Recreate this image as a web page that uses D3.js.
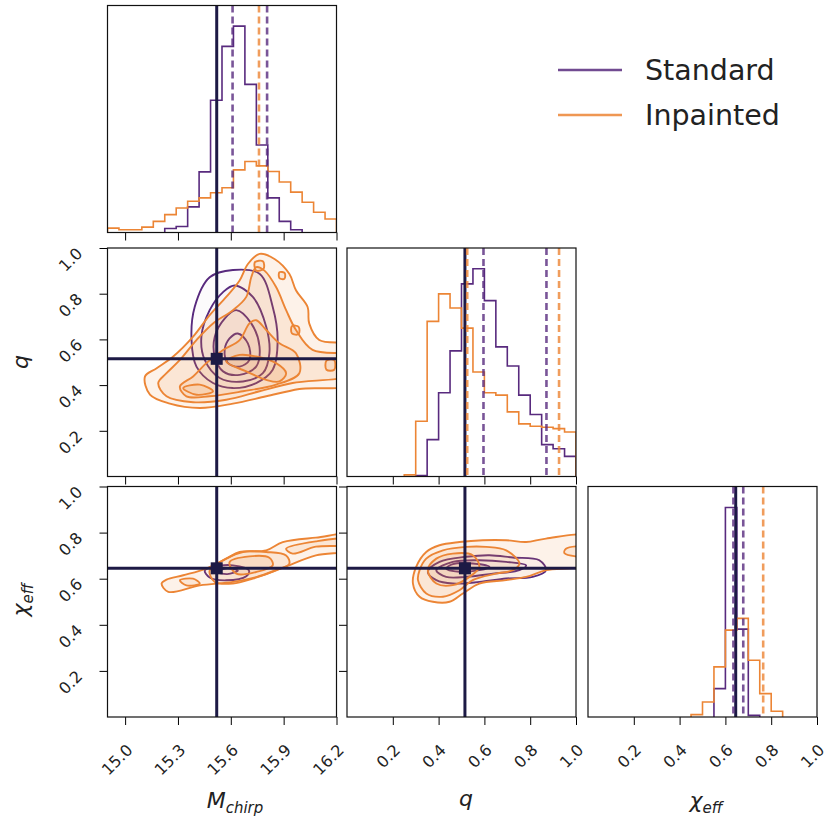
<!DOCTYPE html>
<html>
<head>
<meta charset="utf-8">
<script src="https://cdn.jsdelivr.net/npm/d3@7"></script>
<style>
  body { margin: 0; background: #fff; }
  svg text { font-family: "DejaVu Sans", sans-serif; fill: #222; }
</style>
</head>
<body>
<svg id="chart" width="837" height="817"></svg>
<script>
// Parameters and ranges
const paramLabels = ["M", "q", "χ"];
const paramSubs = ["chirp", "", "eff"];
const paramRanges = [[14.9, 16.2], [0, 1], [0, 1]];
const xTickValues = [
  [15.0, 15.3, 15.6, 15.9, 16.2],
  [0.2, 0.4, 0.6, 0.8, 1.0],
  [0.2, 0.4, 0.6, 0.8, 1.0],
];
const yTickValues = [0.2, 0.4, 0.6, 0.8, 1.0];
const nBins = 20;

// Injected values
const truths = [15.52, 0.515, 0.645];

// 1D histograms (counts per bin, 20 bins over each range)
const stdHistMchirp = [0, 0, 0, 0, 0, 12, 18, 76, 180, 393, 553, 613, 440, 260, 103, 33, 8, 0, 0, 0];
const inpHistMchirp = [13, 8, 8, 16, 33, 53, 73, 93, 103, 118, 133, 186, 211, 198, 181, 150, 120, 90, 60, 40];
const stdHistQ = [0, 0, 0, 0, 0, 0, 3, 110, 250, 375, 575, 620, 525, 387, 330, 243, 185, 95, 83, 60];
const inpHistQ = [0, 0, 0, 0, 0, 5, 165, 463, 545, 503, 443, 312, 250, 243, 193, 157, 150, 147, 143, 133];
const stdHistChi = [0, 0, 0, 0, 0, 0, 0, 0, 0, 0, 0, 85, 627, 263, 5, 0, 0, 0, 0, 0];
const inpHistChi = [0, 0, 0, 0, 0, 0, 0, 0, 0, 7, 45, 150, 260, 295, 170, 70, 17, 0, 0, 0];

// Dashed markers on the 1D panels
const stdQuantMchirp = [15.61, 15.806];
const inpQuantMchirp = [15.76];
const stdQuantQ = [0.596, 0.871];
const inpQuantQ = [0.525, 0.926];
const stdQuantChi = [0.635, 0.678];
const inpQuantChi = [0.765];

// 2D contours: levels (outer -> inner), each a list of rings of [x, y]
const stdContMchirpQ = [
  [[[15.48, 0.872], [15.612, 0.904], [15.763, 0.887], [15.838, 0.742], [15.866, 0.597], [15.838, 0.467],
    [15.744, 0.409], [15.612, 0.387], [15.499, 0.409], [15.405, 0.481], [15.377, 0.597], [15.395, 0.742]]],
  [[[15.622, 0.836], [15.725, 0.786], [15.801, 0.655], [15.819, 0.539], [15.782, 0.452], [15.669, 0.416],
    [15.537, 0.431], [15.452, 0.51], [15.433, 0.612], [15.48, 0.728], [15.556, 0.807]]],
  [[[15.631, 0.728], [15.716, 0.67], [15.763, 0.568], [15.744, 0.481], [15.65, 0.445], [15.556, 0.46],
    [15.509, 0.525], [15.509, 0.612], [15.565, 0.691]]],
  [[[15.64, 0.626], [15.697, 0.583], [15.706, 0.51], [15.65, 0.481], [15.584, 0.496], [15.565, 0.554], [15.593, 0.604]]],
];
const inpContMchirpQ = [
  [[[15.113, 0.438], [15.141, 0.358], [15.254, 0.319], [15.424, 0.3], [15.612, 0.319], [15.801, 0.351],
    [15.989, 0.383], [16.3, 0.41], [16.3, 0.57], [16.102, 0.597], [16.045, 0.67], [16.036, 0.742],
    [15.97, 0.815], [15.932, 0.887], [15.848, 0.952], [15.763, 0.974], [15.697, 0.93], [15.65, 0.858],
    [15.574, 0.786], [15.48, 0.706], [15.386, 0.612], [15.273, 0.525], [15.179, 0.474]]],
  [[[15.188, 0.409], [15.235, 0.351], [15.386, 0.325], [15.574, 0.336], [15.763, 0.373], [15.951, 0.409],
    [16.3, 0.452], [16.3, 0.525], [16.064, 0.554], [15.97, 0.641], [15.914, 0.728], [15.857, 0.829],
    [15.791, 0.901], [15.744, 0.916], [15.716, 0.872], [15.688, 0.786], [15.612, 0.728], [15.499, 0.67],
    [15.405, 0.597], [15.311, 0.51], [15.235, 0.452]],
   [[15.737, 0.938], [15.782, 0.942], [15.786, 0.909], [15.744, 0.901]],
   [[15.876, 0.894], [15.906, 0.89], [15.904, 0.865], [15.876, 0.868]],
   [[15.947, 0.658], [15.985, 0.655], [15.985, 0.623], [15.947, 0.626]],
   [[16.143, 0.507], [16.187, 0.51], [16.187, 0.467], [16.143, 0.467]]],
  [[[15.311, 0.394], [15.348, 0.351], [15.48, 0.351], [15.669, 0.373], [15.857, 0.402], [15.989, 0.452],
    [15.97, 0.539], [15.876, 0.583], [15.801, 0.641], [15.744, 0.684], [15.706, 0.67], [15.65, 0.597],
    [15.556, 0.554], [15.461, 0.496], [15.386, 0.438]]],
  [[[15.574, 0.503], [15.688, 0.46], [15.801, 0.423], [15.876, 0.416], [15.914, 0.452], [15.857, 0.496],
    [15.744, 0.525], [15.65, 0.532]],
   [[15.33, 0.387], [15.405, 0.358], [15.499, 0.373], [15.424, 0.402]]],
];
const stdContMchirpChi = [
  [[[15.452, 0.636], [15.48, 0.605], [15.574, 0.593], [15.688, 0.611], [15.703, 0.636], [15.612, 0.658], [15.499, 0.651]]],
  [[[15.52, 0.63], [15.58, 0.62], [15.64, 0.635], [15.58, 0.645]]],
];
const inpContMchirpChi = [
  [[[15.207, 0.579], [15.245, 0.543], [15.424, 0.571], [15.612, 0.586], [15.744, 0.607], [15.895, 0.648],
    [16.083, 0.701], [16.3, 0.73], [16.3, 0.79], [16.083, 0.778], [15.895, 0.759], [15.801, 0.723],
    [15.65, 0.716], [15.574, 0.687], [15.461, 0.644], [15.33, 0.615], [15.235, 0.596]]],
  [[[15.48, 0.636], [15.509, 0.586], [15.612, 0.579], [15.725, 0.6], [15.857, 0.636], [15.932, 0.665],
    [15.914, 0.701], [15.801, 0.716], [15.669, 0.716], [15.574, 0.687]],
   [[15.914, 0.73], [16.083, 0.762], [16.3, 0.772], [16.3, 0.75], [16.083, 0.739], [15.951, 0.709]],
   [[15.311, 0.593], [15.348, 0.571], [15.424, 0.579], [15.386, 0.6]]],
  [[[15.593, 0.672], [15.631, 0.622], [15.744, 0.629], [15.838, 0.658], [15.819, 0.691], [15.706, 0.697]]],
];
const stdContQChi = [
  [[[0.353, 0.63], [0.39, 0.594], [0.462, 0.579], [0.578, 0.586], [0.695, 0.601], [0.811, 0.608],
    [0.869, 0.637], [0.84, 0.68], [0.724, 0.692], [0.622, 0.702], [0.52, 0.695], [0.404, 0.673]]],
  [[[0.39, 0.637], [0.433, 0.608], [0.52, 0.608], [0.637, 0.622], [0.753, 0.637], [0.782, 0.658],
    [0.695, 0.673], [0.578, 0.68], [0.462, 0.673]]],
  [[[0.433, 0.644], [0.491, 0.63], [0.578, 0.637], [0.622, 0.651], [0.549, 0.666], [0.462, 0.663]]],
];
const inpContQChi = [
  [[[0.288, 0.579], [0.317, 0.522], [0.375, 0.5], [0.448, 0.5], [0.506, 0.536], [0.578, 0.579],
    [0.695, 0.594], [0.782, 0.608], [0.869, 0.637], [1.05, 0.666], [1.05, 0.781], [0.869, 0.774],
    [0.782, 0.759], [0.695, 0.767], [0.593, 0.767], [0.491, 0.759], [0.404, 0.745], [0.346, 0.716], [0.302, 0.651]]],
  [[[0.31, 0.594], [0.346, 0.536], [0.419, 0.522], [0.491, 0.55], [0.549, 0.594], [0.651, 0.622],
    [0.724, 0.637], [0.753, 0.666], [0.695, 0.723], [0.608, 0.738], [0.52, 0.738], [0.419, 0.723],
    [0.346, 0.687], [0.317, 0.637]],
   [[0.956, 0.73], [1.05, 0.735], [1.05, 0.7], [0.95, 0.71]]],
  [[[0.353, 0.637], [0.39, 0.579], [0.462, 0.572], [0.535, 0.608], [0.578, 0.651], [0.549, 0.702],
    [0.462, 0.709], [0.39, 0.687]]],
];

// Series
const seriesNames = ["Standard", "Inpainted"];
const seriesColors = ["#582a7e", "#ec8535"];
const truthColor = "#1d1a45";

const stdHists = [stdHistMchirp, stdHistQ, stdHistChi];
const inpHists = [inpHistMchirp, inpHistQ, inpHistChi];
const stdQuants = [stdQuantMchirp, stdQuantQ, stdQuantChi];
const inpQuants = [inpQuantMchirp, inpQuantQ, inpQuantChi];
const pairContours = {
  "0-1": [stdContMchirpQ, inpContMchirpQ],
  "0-2": [stdContMchirpChi, inpContMchirpChi],
  "1-2": [stdContQChi, inpContQChi],
};

// Layout
const colX = [107.5, 347, 588];
const panelW = 229;
const rowY = [5.5, 248, 486.5];
const rowH = [227, 228.5, 230.5];
const tickLen = 8;
const fmt = d3.format(".1f");

const svg = d3.select("#chart");
const defs = svg.append("defs");

function xScale(p, col) {
  return d3.scaleLinear().domain(paramRanges[p]).range([colX[col], colX[col] + panelW]);
}
function yScale(p, row) {
  return d3.scaleLinear().domain(paramRanges[p]).range([rowY[row] + rowH[row], rowY[row]]);
}

function clipFor(col, row) {
  const id = `clip${col}${row}`;
  defs.append("clipPath").attr("id", id)
    .append("rect")
    .attr("x", colX[col]).attr("y", rowY[row])
    .attr("width", panelW).attr("height", rowH[row]);
  return `url(#${id})`;
}

function styleAxis(g) {
  g.select(".domain").remove();
  g.selectAll(".tick line").attr("stroke", "#000").attr("stroke-width", 1);
  g.selectAll(".tick text").style("font-size", "16px").attr("fill", "#222");
}

function drawXAxis(x, col, row, labelled) {
  const g = svg.append("g")
    .attr("transform", `translate(0,${rowY[row] + rowH[row]})`)
    .call(d3.axisBottom(x).tickValues(xTickValues[col]).tickSize(tickLen)
      .tickFormat(labelled ? fmt : ""));
  styleAxis(g);
  if (labelled) {
    g.selectAll(".tick text")
      .attr("x", 0).attr("y", 0).attr("dy", "0.35em")
      .attr("text-anchor", "end")
      .attr("transform", "translate(4,30) rotate(-45)");
  }
}

function drawYAxis(y, col, row, labelled) {
  const g = svg.append("g")
    .attr("transform", `translate(${colX[col]},0)`)
    .call(d3.axisLeft(y).tickValues(yTickValues).tickSize(tickLen)
      .tickFormat(labelled ? fmt : ""));
  styleAxis(g);
  if (labelled) {
    g.selectAll(".tick text")
      .attr("x", 0).attr("y", 0).attr("dy", "0.35em")
      .attr("text-anchor", "end")
      .attr("transform", "translate(-28,2) rotate(-45)");
  }
}

function border(col, row) {
  svg.append("rect")
    .attr("x", colX[col]).attr("y", rowY[row])
    .attr("width", panelW).attr("height", rowH[row])
    .attr("fill", "none").attr("stroke", "#111").attr("stroke-width", 1.2);
}

// 1D histogram panels on the diagonal
for (let i = 0; i < 3; i++) {
  const x = xScale(i, i);
  const ymax = 1.1 * d3.max(stdHists[i]);
  const y = d3.scaleLinear().domain([0, ymax]).range([rowY[i] + rowH[i], rowY[i]]);
  const [lo, hi] = paramRanges[i];
  const edges = d3.range(nBins + 1).map((k) => lo + (k * (hi - lo)) / nBins);

  const g = svg.append("g").attr("clip-path", clipFor(i, i));

  [stdHists[i], inpHists[i]].forEach((counts, s) => {
    // trim empty bins at both ends so the outline does not run along the baseline
    const first = counts.findIndex((c) => c > 0);
    let last = counts.length - 1;
    while (last > first && counts[last] === 0) last--;
    const pts = [[edges[first], 0]];
    for (let k = first; k <= last; k++) {
      pts.push([edges[k], counts[k]]);
      pts.push([edges[k + 1], counts[k]]);
    }
    pts.push([edges[last + 1], 0]);
    g.append("path")
      .attr("d", d3.line().x((d) => x(d[0])).y((d) => y(d[1]))(pts))
      .attr("fill", "none")
      .attr("stroke", seriesColors[s])
      .attr("stroke-width", 1.6);
  });

  // Injected value
  g.append("line")
    .attr("x1", x(truths[i])).attr("x2", x(truths[i]))
    .attr("y1", rowY[i]).attr("y2", rowY[i] + rowH[i])
    .attr("stroke", truthColor).attr("stroke-width", 3);

  // Dashed markers
  [stdQuants[i], inpQuants[i]].forEach((qs, s) => {
    g.selectAll(null).data(qs).join("line")
      .attr("x1", (d) => x(d)).attr("x2", (d) => x(d))
      .attr("y1", rowY[i]).attr("y2", rowY[i] + rowH[i])
      .attr("stroke", seriesColors[s])
      .attr("stroke-width", 2.6)
      .attr("stroke-opacity", 0.8)
      .attr("stroke-dasharray", "7,4");
  });

  drawXAxis(x, i, i, i === 2);
  border(i, i);
}

// 2D contour panels below the diagonal
const contourLine = d3.line().curve(d3.curveCatmullRomClosed.alpha(0.5));
const fillOpacity = [0.02, 0.11];

[[0, 1], [0, 2], [1, 2]].forEach(([px, py]) => {
  const col = px, row = py;
  const x = xScale(px, col);
  const y = yScale(py, row);
  const g = svg.append("g").attr("clip-path", clipFor(col, row));
  const sets = pairContours[`${px}-${py}`];

  sets.forEach((levels, s) => {
    // stacked fills
    levels.forEach((rings) => {
      rings.forEach((ring) => {
        g.append("path")
          .attr("d", contourLine(ring.map((d) => [x(d[0]), y(d[1])])))
          .attr("fill", seriesColors[s])
          .attr("fill-opacity", fillOpacity[s])
          .attr("stroke", "none");
      });
    });
    levels.forEach((rings) => {
      rings.forEach((ring) => {
        g.append("path")
          .attr("d", contourLine(ring.map((d) => [x(d[0]), y(d[1])])))
          .attr("fill", "none")
          .attr("stroke", seriesColors[s])
          .attr("stroke-width", 1.9);
      });
    });
  });

  // Injected values: cross-hair and marker
  g.append("line")
    .attr("x1", x(truths[px])).attr("x2", x(truths[px]))
    .attr("y1", rowY[row]).attr("y2", rowY[row] + rowH[row])
    .attr("stroke", truthColor).attr("stroke-width", 3);
  g.append("line")
    .attr("x1", colX[col]).attr("x2", colX[col] + panelW)
    .attr("y1", y(truths[py])).attr("y2", y(truths[py]))
    .attr("stroke", truthColor).attr("stroke-width", 3);
  g.append("rect")
    .attr("x", x(truths[px]) - 6).attr("y", y(truths[py]) - 6)
    .attr("width", 12).attr("height", 12)
    .attr("fill", truthColor);

  drawXAxis(x, col, row, row === 2);
  drawYAxis(y, col, row, col === 0);
  border(col, row);
});

// Axis labels
function mathLabel(sel, i) {
  sel.append("tspan").text(paramLabels[i]);
  if (paramSubs[i]) {
    sel.append("tspan")
      .attr("dy", "0.3em")
      .style("font-size", "15px")
      .text(paramSubs[i]);
  }
}
const xLabelPos = [[235, 808], [466, 806], [706, 808]];
xLabelPos.forEach(([lx, ly], i) => {
  svg.append("text")
    .attr("x", lx).attr("y", ly)
    .attr("text-anchor", "middle")
    .style("font-size", "22px")
    .style("font-style", "italic")
    .call(mathLabel, i);
});
const yLabelPos = [[28, 362, 1], [28, 600, 2]];
yLabelPos.forEach(([lx, ly, i]) => {
  svg.append("text")
    .attr("transform", `translate(${lx},${ly}) rotate(-90)`)
    .attr("text-anchor", "middle")
    .style("font-size", "22px")
    .style("font-style", "italic")
    .call(mathLabel, i);
});

// Legend
const legendY = [70, 115];
seriesNames.forEach((name, s) => {
  svg.append("line")
    .attr("x1", 558).attr("x2", 622)
    .attr("y1", legendY[s]).attr("y2", legendY[s])
    .attr("stroke", seriesColors[s])
    .attr("stroke-opacity", 0.85)
    .attr("stroke-width", 2.6);
  svg.append("text")
    .attr("x", 645).attr("y", legendY[s] + 10)
    .style("font-size", "28.5px")
    .text(name);
});
</script>
</body>
</html>
